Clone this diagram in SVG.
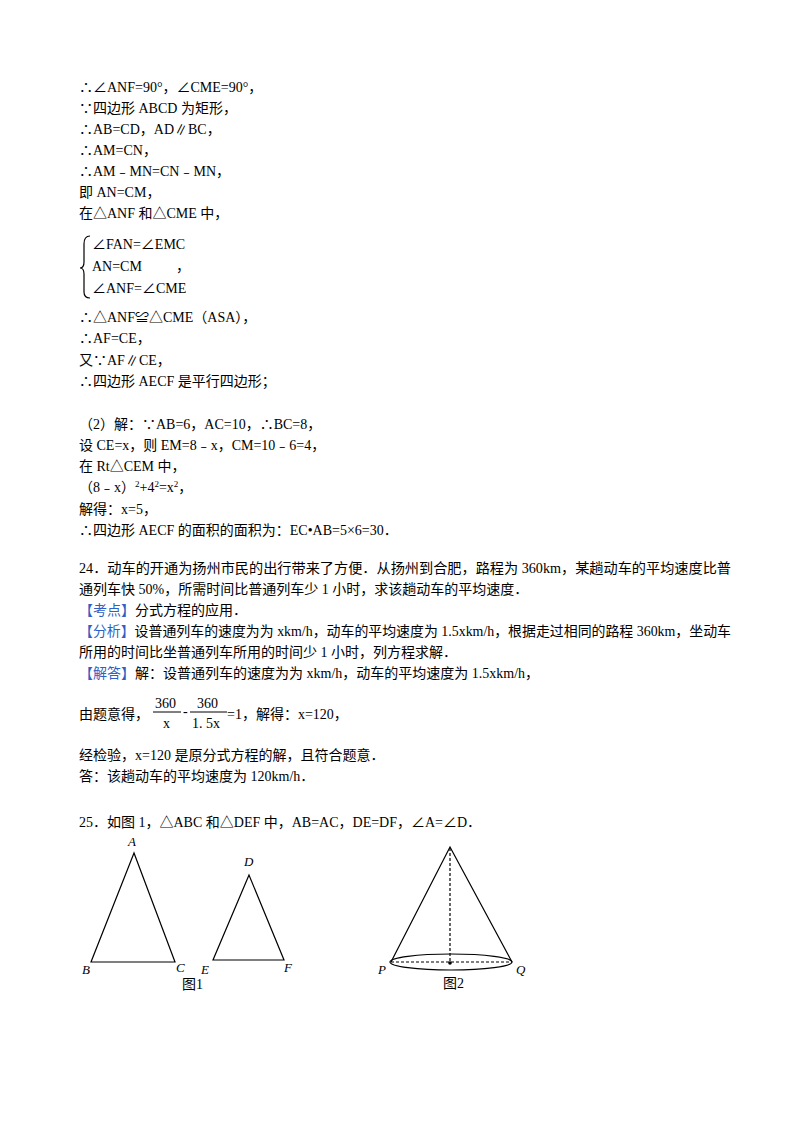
<svg xmlns="http://www.w3.org/2000/svg" width="800" height="1132" viewBox="0 0 800 1132">
<style>
text{font-family:"Liberation Serif","Noto Sans CJK SC",serif;font-size:14px;fill:#000}
.b{fill:#2f5fc4}
.it{font-style:italic;font-size:13px}
.ln{stroke:#000;stroke-width:1.2;fill:none}
.d{stroke:#000;stroke-width:1.2;stroke-dasharray:3 2;fill:none}
</style>
<rect width="800" height="1132" fill="#fff"/>
<g id="text">
<text x="79" y="92">∴∠ANF=90°，∠CME=90°，</text>
<text x="79" y="113">∵四边形 ABCD 为矩形，</text>
<text x="79" y="134">∴AB=CD，AD∥BC，</text>
<text x="79" y="155">∴AM=CN，</text>
<text x="79" y="176">∴AM﹣MN=CN﹣MN，</text>
<text x="79" y="197">即 AN=CM，</text>
<text x="79" y="218">在△ANF 和△CME 中，</text>
<path d="M90 236 Q84 236 84 244 L84 262 Q84 268 80 268 Q84 268 84 274 L84 292 Q84 298 90 298" class="ln"/>
<text x="92" y="249">∠FAN=∠EMC</text>
<text x="92" y="271">AN=CM</text>
<text x="176" y="271">，</text>
<text x="92" y="293">∠ANF=∠CME</text>
<text x="79" y="322">∴△ANF≌△CME（ASA），</text>
<text x="79" y="343">∴AF=CE，</text>
<text x="79" y="365">又∵AF∥CE，</text>
<text x="79" y="386">∴四边形 AECF 是平行四边形；</text>
<text x="79" y="429">（2）解：∵AB=6，AC=10，∴BC=8，</text>
<text x="79" y="450">设 CE=x，则 EM=8﹣x，CM=10﹣6=4，</text>
<text x="79" y="471">在 Rt△CEM 中，</text>
<text x="79" y="492">（8﹣x）<tspan font-size="9" dy="-5">2</tspan><tspan dy="5">+4</tspan><tspan font-size="9" dy="-5">2</tspan><tspan dy="5">=x</tspan><tspan font-size="9" dy="-5">2</tspan><tspan dy="5">，</tspan></text>
<text x="79" y="514">解得：x=5，</text>
<text x="79" y="535">∴四边形 AECF 的面积的面积为：EC•AB=5×6=30．</text>
<text x="79" y="573" textLength="652" lengthAdjust="spacingAndGlyphs">24．动车的开通为扬州市民的出行带来了方便．从扬州到合肥，路程为 360km，某趟动车的平均速度比普</text>
<text x="79" y="594">通列车快 50%，所需时间比普通列车少 1 小时，求该趟动车的平均速度．</text>
<text x="79" y="615"><tspan class="b">【考点】</tspan>分式方程的应用．</text>
<text x="79" y="636" textLength="652" lengthAdjust="spacingAndGlyphs"><tspan class="b">【分析】</tspan>设普通列车的速度为为 xkm/h，动车的平均速度为 1.5xkm/h，根据走过相同的路程 360km，坐动车</text>
<text x="79" y="657">所用的时间比坐普通列车所用的时间少 1 小时，列方程求解．</text>
<text x="79" y="678"><tspan class="b">【解答】</tspan>解：设普通列车的速度为为 xkm/h，动车的平均速度为 1.5xkm/h，</text>
<text x="79" y="719">由题意得，</text>
<text x="155" y="708" font-family="Liberation Sans" font-size="13">360</text>
<line x1="153" y1="712" x2="181" y2="712" stroke="#000"/>
<text x="163" y="728">x</text>
<text x="183" y="716">-</text>
<text x="197" y="708" font-family="Liberation Sans" font-size="13">360</text>
<line x1="190" y1="712" x2="227" y2="712" stroke="#000"/>
<text x="192" y="728" font-family="Liberation Sans" font-size="13">1. 5x</text>
<text x="227" y="719">=1，解得：x=120，</text>
<text x="79" y="760">经检验，x=120 是原分式方程的解，且符合题意．</text>
<text x="79" y="781">答：该趟动车的平均速度为 120km/h．</text>
<text x="79" y="827">25．如图 1，△ABC 和△DEF 中，AB=AC，DE=DF，∠A=∠D．</text>
</g>
<g id="fig1">
<polygon points="134,853 91,962 175,962" class="ln"/>
<polygon points="249,875 213,960 284,960" class="ln"/>
<text class="it" x="128" y="846">A</text>
<text class="it" x="82" y="974">B</text>
<text class="it" x="176" y="972">C</text>
<text class="it" x="244" y="866">D</text>
<text class="it" x="201" y="974">E</text>
<text class="it" x="284" y="972">F</text>
<text x="182" y="989" font-size="13">图1</text>
</g>
<g id="fig2">
<path d="M391 962 L450 847 L512 962" class="ln"/>
<ellipse cx="451" cy="962" rx="61" ry="8" class="ln"/>
<line x1="450" y1="848" x2="450" y2="962" class="d"/>
<line x1="391" y1="962" x2="512" y2="962" class="d"/>
<circle cx="450" cy="963" r="1.8"/>
<text class="it" x="378" y="974">P</text>
<text class="it" x="516" y="974">Q</text>
<text x="443" y="988" font-size="13">图2</text>
</g>
</svg>
